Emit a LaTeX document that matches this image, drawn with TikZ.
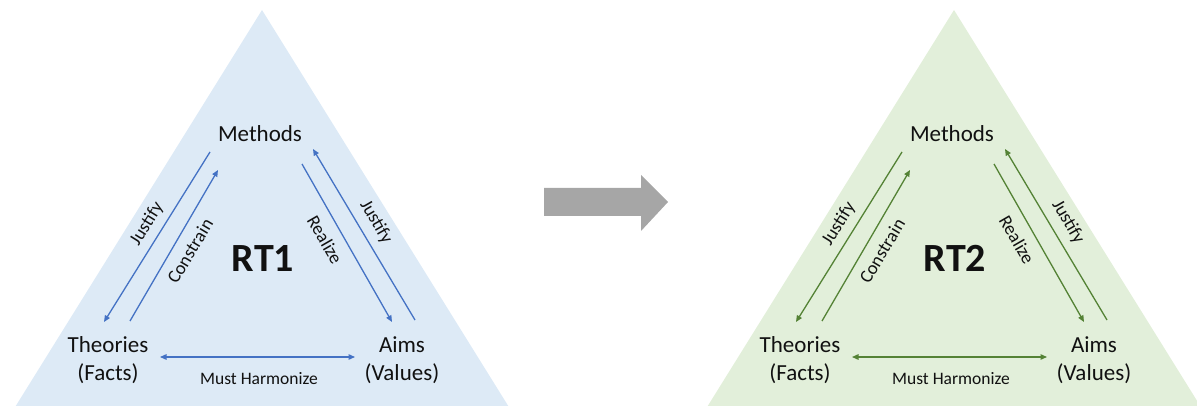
\documentclass[tikz,border=0pt]{standalone}
\usepackage{fontspec}
\setmainfont{Carlito}
\usetikzlibrary{arrows.meta}
\definecolor{bluefill}{HTML}{DDEAF6}
\definecolor{greenfill}{HTML}{E2EFDA}
\definecolor{bluearrow}{HTML}{4472C4}
\definecolor{greenarrow}{HTML}{548235}
\definecolor{grayarrow}{HTML}{A6A6A6}
\definecolor{inktext}{HTML}{111111}

\begin{document}
\begin{tikzpicture}[x=1pt,y=-1pt,
  vertex/.style={font=\fontsize{23}{28}\selectfont, align=center, inner sep=0pt, text=inktext, anchor=base},
  title/.style={font=\fontsize{40}{44}\selectfont\bfseries, inner sep=0pt, text=inktext, anchor=base},
  edgelabel/.style={font=\fontsize{17.5}{20}\selectfont, inner sep=0pt, text=inktext},
  sidelabel/.style={edgelabel, font=\fontsize{18.5}{20}\selectfont},
  link/.style={line width=1.3pt, -{Triangle[length=6.5pt,width=5.5pt]}},
  biglink/.style={line width=1.3pt, {Triangle[length=6.5pt,width=5.5pt]}-{Triangle[length=6.5pt,width=5.5pt]}},
]
\useasboundingbox (0,0) rectangle (1197,406);
\clip (0,0) rectangle (1197,406);

% the two triangles of reasons: RT1 (blue) and RT2 (green)
\foreach \dx/\tint/\ink/\name in {0/bluefill/bluearrow/RT1, 692/greenfill/greenarrow/RT2} {
  \begin{scope}[xshift=\dx]
    \fill[\tint] (262,10) -- (12,412) -- (512,412) -- cycle;

    % the base of a two-line node is the baseline of its last line
    \node[vertex] (meth\name) at (260,142) {Methods};
    \node[vertex] (theo\name) at (108,380) {Theories\\(Facts)};
    \node[vertex] (aims\name) at (402,380) {Aims\\(Values)};
    \node[title]  (lab\name)  at (263,271) {\name};

    % arrow end points beside the vertex labels
    \coordinate (jlA\name) at (210,152);
    \coordinate (jlB\name) at (104,322);
    \coordinate (csA\name) at (130,321);
    \coordinate (csB\name) at (218,170);
    \coordinate (rzA\name) at (302,164);
    \coordinate (rzB\name) at (392,322);
    \coordinate (jrA\name) at (415,320);
    \coordinate (jrB\name) at (313,149);
    \coordinate (hmA\name) at (160,357);
    \coordinate (hmB\name) at (355,357);

    \draw[link, \ink] (jlA\name) -- (jlB\name);
    \draw[link, \ink] (csA\name) -- (csB\name);
    \draw[link, \ink] (rzA\name) -- (rzB\name);
    \draw[link, \ink] (jrA\name) -- (jrB\name);
    \draw[biglink, \ink] (hmA\name) -- (hmB\name);

    \node[sidelabel, rotate=58]  (tjl\name) at (147,224) {Justify};
    \node[sidelabel, rotate=59]  (tcs\name) at (190,251) {Constrain};
    \node[sidelabel, rotate=-60] (trz\name) at (325,240) {Realize};
    \node[sidelabel, rotate=-60] (tjr\name) at (376,222) {Justify};
    \node[edgelabel, anchor=base] (thm\name) at (259,384) {Must Harmonize};
  \end{scope}
}

% block arrow leading from RT1 to RT2
\fill[grayarrow] (544,188) -- (641,188) -- (641,175) -- (668,202)
  -- (641,231) -- (641,216) -- (544,216) -- cycle;
\end{tikzpicture}
\end{document}
